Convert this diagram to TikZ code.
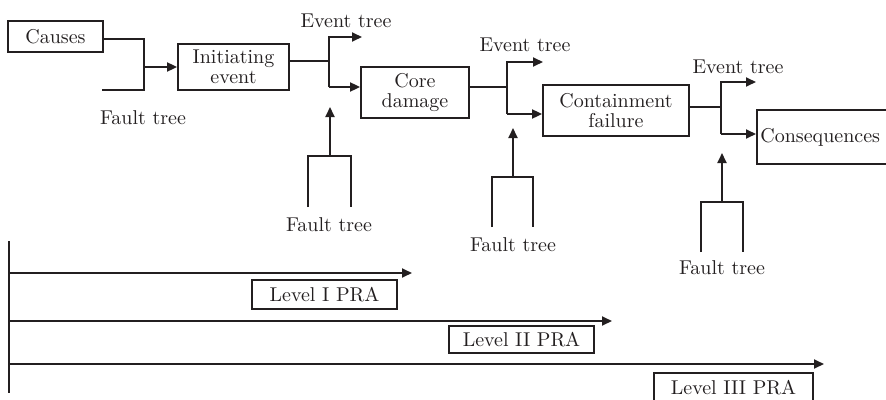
\documentclass[tikz,border=0pt]{standalone}
\usepackage{fontspec}
\setmainfont{lmroman10-regular.otf}
\usetikzlibrary{arrows.meta}
\definecolor{ink}{RGB}{35,31,32}
\begin{document}
\begin{tikzpicture}[x=1pt,y=-1pt,
  line width=1.8pt, color=ink,
  box/.style={draw, line width=1.8pt, inner sep=0pt, align=center, font=\fontsize{20}{20.5}\selectfont},
  lbl/.style={inner sep=0pt, font=\fontsize{20}{20.5}\selectfont},
  arr/.style={-{Triangle[length=10pt,width=9pt]}},
]
\useasboundingbox (0,0) rectangle (886,399);
\clip (0,0) rectangle (886,399);

% boxes
\node[box, minimum width=95pt, minimum height=31pt] (causes) at (55.5,36.5) {Causes};
\node[box, minimum width=111pt, minimum height=46pt] (init) at (233.5,67) {Initiating\\event};
\node[box, minimum width=108pt, minimum height=51pt] (core) at (415,92.5) {Core\\damage};
\node[box, minimum width=146pt, minimum height=51pt] (cont) at (616,110.5) {Containment\\failure};
\node[box, anchor=west, inner xsep=3.5pt, text width=143pt, align=left, minimum height=54pt] (cons) at (756,137) {Consequences};

% labels
\node[lbl] (ft1) at (143,118) {Fault tree};
\node[lbl] (et1) at (346,21) {Event tree};
\node[lbl] (et2) at (525,45) {Event tree};
\node[lbl] (et3) at (738,67) {Event tree};
\node[lbl] (ft2) at (329,225) {Fault tree};
\node[lbl] (ft3) at (513,245) {Fault tree};
\node[lbl] (ft4) at (722,268) {Fault tree};

% causes + fault tree -> initiating event
\coordinate (j1) at (144,39);
\coordinate (j1b) at (144,90);
\coordinate (ft1end) at (102,90);
\draw (causes.east |- j1) -- (j1) -- (j1b) -- (ft1end);
\draw[arr] (j1 |- init.west) -- (init.west);

% branch 1
\coordinate (b1) at (329,61);
\coordinate (b1t) at (329,37);
\coordinate (b1b) at (329,87);
\coordinate (e1) at (362,37);
\draw (init.east |- b1) -- (b1);
\draw[arr] (b1b) -- (b1t) -- (e1);
\draw[arr] (b1b) -- (core.west |- b1b);

% branch 2
\coordinate (b2) at (507,87);
\coordinate (b2t) at (507,62);
\coordinate (b2b) at (507,114);
\coordinate (e2) at (543,62);
\draw (core.east |- b2) -- (b2);
\draw[arr] (b2b) -- (b2t) -- (e2);
\draw[arr] (b2b) -- (cont.west |- b2b);

% branch 3
\coordinate (b3) at (721,107);
\coordinate (b3t) at (721,82);
\coordinate (b3b) at (721,134);
\coordinate (e3) at (756,82);
\draw (cont.east |- b3) -- (b3);
\draw[arr] (b3b) -- (b3t) -- (e3);
\draw[arr] (b3b) -- (cons.west |- b3b);

% fault tree brackets
\coordinate (f2s) at (330,156); \coordinate (f2t) at (330,107);
\coordinate (f2l) at (308,156); \coordinate (f2r) at (351,156);
\coordinate (f2ll) at (308,207); \coordinate (f2rr) at (351,207);
\draw (f2ll) -- (f2l) -- (f2r) -- (f2rr);
\draw[arr] (f2s) -- (f2t);

\coordinate (f3s) at (513,177); \coordinate (f3t) at (513,128);
\coordinate (f3l) at (492,177); \coordinate (f3r) at (533,177);
\coordinate (f3ll) at (492,227); \coordinate (f3rr) at (533,227);
\draw (f3ll) -- (f3l) -- (f3r) -- (f3rr);
\draw[arr] (f3s) -- (f3t);

\coordinate (f4s) at (722,202); \coordinate (f4t) at (722,153);
\coordinate (f4l) at (701,202); \coordinate (f4r) at (743,202);
\coordinate (f4ll) at (701,252); \coordinate (f4rr) at (743,252);
\draw (f4ll) -- (f4l) -- (f4r) -- (f4rr);
\draw[arr] (f4s) -- (f4t);

% PRA levels
\coordinate (t0) at (9,241);
\coordinate (t1) at (9,393);
\draw (t0) -- (t1);
\coordinate (a1s) at (9,273); \coordinate (a1e) at (412,273);
\coordinate (a2s) at (9,321); \coordinate (a2e) at (612,321);
\coordinate (a3s) at (9,364); \coordinate (a3e) at (824,364);
\draw[arr] (a1s) -- (a1e);
\draw[arr] (a2s) -- (a2e);
\draw[arr] (a3s) -- (a3e);

\node[box, minimum width=145pt, minimum height=29pt] (l1) at (324.5,294.5) {Level I PRA};
\node[box, minimum width=145pt, minimum height=27pt] (l2) at (521.5,339.5) {Level II PRA};
\node[box, minimum width=159pt, minimum height=29pt] (l3) at (733.5,387.5) {Level III PRA};
\end{tikzpicture}
\end{document}
